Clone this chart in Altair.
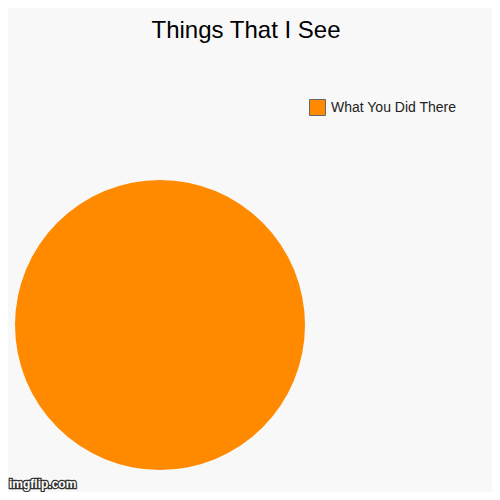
import altair as alt
import pandas as pd

categories = ["What You Did There"]
values = [100]
colors = ["#ff8a00"]
title_text = "Things That I See"
watermark = ["imgflip.com"]

df = pd.DataFrame({"category": categories, "value": values})
wm = pd.DataFrame({"text": watermark})

pie = alt.Chart(df).mark_arc(radius=145, stroke=None).encode(
    theta=alt.Theta("value:Q", stack=True),
    color=alt.Color(
        "category:N",
        scale=alt.Scale(domain=categories, range=colors),
        legend=alt.Legend(
            title=None,
            orient="none",
            legendX=301,
            legendY=49,
            symbolType="square",
            symbolSize=256,
            symbolStrokeColor="#666666",
            symbolStrokeWidth=1,
            symbolOpacity=1,
            labelFont="Liberation Sans",
            labelFontSize=14,
            labelColor="#222222",
            labelOffset=5,
        ),
    ),
    x=alt.value(152),
    y=alt.value(275),
)

mark = alt.Chart(wm).mark_text(
    font="Liberation Sans", fontSize=12, fontWeight="bold", align="left",
    baseline="alphabetic", fill="white", stroke="#333333", strokeWidth=2.5,
).encode(text="text:N", x=alt.value(1), y=alt.value(438))

mark2 = alt.Chart(wm).mark_text(
    font="Liberation Sans", fontSize=12, fontWeight="bold", align="left",
    baseline="alphabetic", fill="white",
).encode(text="text:N", x=alt.value(1), y=alt.value(438))

chart = alt.layer(pie, mark, mark2).properties(
    width=484,
    height=442,
    padding={"top": 42, "left": 0, "right": 0, "bottom": 0},
    autosize=alt.AutoSizeParams(type="none"),
    background="#f8f8f8",
    title=alt.TitleParams(
        title_text, font="Liberation Sans", fontSize=24, fontWeight="normal",
        color="#000000", anchor="middle", baseline="alphabetic", offset=-12, dx=-4,
    ),
).configure_view(stroke=None)

chart.save("out.html", embed_options={"renderer": "svg", "actions": False})
